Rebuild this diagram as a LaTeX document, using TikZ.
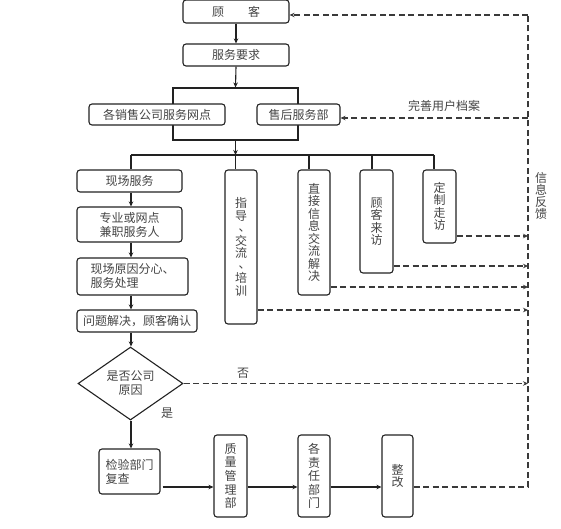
\documentclass[tikz,border=0pt]{standalone}
\usepackage{fontspec}
\setmainfont{Noto Sans CJK SC}
\usetikzlibrary{arrows.meta,shapes.geometric,calc}
\definecolor{lc}{HTML}{222222}
\definecolor{tc}{HTML}{444444}
\definecolor{dc}{HTML}{3A3A3A}
\newcommand\vdun{\makebox[1em][l]{\hspace{0.3em}\raisebox{0.12em}{、}}}
\tikzset{
  box/.style={draw=lc, line width=1.1pt, rounded corners=3pt, fill=white, inner sep=0pt,
    text=tc, font=\fontsize{12}{14}\selectfont, align=center},
  vbox/.style={box, font=\fontsize{12}{12.5}\selectfont},
  vbox2/.style={box, font=\fontsize{12}{13.6}\selectfont},
  ln/.style={draw=lc, line width=1.1pt},
  arr/.style={ln, -{Stealth[length=5pt,width=4.5pt]}},
  dsh/.style={draw=dc, line width=1.2pt, dash pattern=on 6pt off 3.5pt},
  darr/.style={dsh, -{Stealth[length=5pt,width=4.5pt]}},
  lbl/.style={text=tc, font=\fontsize{12}{14}\selectfont, inner sep=0pt, align=center},
}
\begin{document}
\begin{tikzpicture}[x=1pt,y=-1pt]
\useasboundingbox (0,0) rectangle (561,528);
% bracket rectangle
\node[draw=lc, line width=1.1pt, minimum width=125, minimum height=52, inner sep=0pt] (br) at (235.5,114) {};
% top boxes
\node[box, minimum width=106, minimum height=23] (gk) at (236,11.5) {顾\hspace{2em}客};
\node[box, minimum width=106, minimum height=22] (fw) at (236,55) {服务要求};
\node[box, minimum width=136, minimum height=21] (wd) at (157,114.5) {各销售公司服务网点};
\node[box, minimum width=83, minimum height=21] (sh) at (298.5,114.5) {售后服务部};
% left chain
\node[box, minimum width=105, minimum height=22] (xc) at (129.5,181) {现场服务};
\node[box, minimum width=105, minimum height=35] (zy) at (129.5,224.5) {专业或网点\\兼职服务人};
\node[box, minimum width=111, minimum height=37, align=left] (yy) at (132.5,276.5) {现场原因分心、\\服务处理};
\node[box, minimum width=120, minimum height=22] (wt) at (137,321) {问题解决，顾客确认};
\node[draw=lc, line width=1.1pt, fill=white, diamond, aspect=1.44, minimum width=105, minimum height=73,
  inner sep=0pt, text=tc, font=\fontsize{12}{14}\selectfont, align=center] (dm) at (130.5,383.5) {是否公司\\原因};
\node[box, minimum width=61, minimum height=45, align=left] (jy) at (129.5,471.5) {检验部门\\复查};
% vertical boxes
\node[vbox, minimum width=32, minimum height=154] (zd) at (241,247) {指\\导\\\vdun\\交\\流\\\vdun\\培\\训};
\node[vbox, minimum width=32, minimum height=125] (zj) at (314,232.5) {直\\接\\信\\息\\交\\流\\解\\决};
\node[vbox, minimum width=33, minimum height=103] (lf) at (376.5,221.5) {顾\\客\\来\\访};
\node[vbox, minimum width=33, minimum height=73] (dz) at (439.5,206.5) {定\\制\\走\\访};
% bottom boxes
\node[vbox2, minimum width=33, minimum height=82] (zl) at (230.5,476) {质\\量\\管\\理\\部};
\node[vbox2, minimum width=32, minimum height=82] (zr) at (314,476) {各\\责\\任\\部\\门};
\node[vbox, minimum width=31, minimum height=82] (zg) at (397.5,476) {整\\改};
% labels
\node[lbl] (t1) at (444,106) {完善用户档案};
\node[lbl] (t2) at (243,373) {否};
\node[lbl] (t3) at (167,413) {是};
\node[lbl, font=\fontsize{12}{12}\selectfont] (t4) at (541,196) {信\\息\\反\\馈};
% coordinates
\coordinate (col) at (131,0);
\coordinate (hL) at (131,155);
\coordinate (hR) at (434,155);
\coordinate (d1) at (235.5,155);
\coordinate (d2) at (309,155);
\coordinate (d3) at (372,155);
\coordinate (rt) at (528,15);
\coordinate (r2) at (528,118);
\coordinate (a1) at (528,236);
\coordinate (a2) at (528,266);
\coordinate (a3) at (528,287);
\coordinate (a4) at (528,310);
\coordinate (a5) at (528,383.5);
\coordinate (rb) at (528,487);
% solid connectors
\draw[arr] (gk.south) -- (fw.north);
\draw[arr] (fw.south) -- (br.north);
\draw[arr] (br.south) -- (br.south |- hL);
\draw[ln] (hL) -- (hR);
\draw[ln] (hL) -- (hL |- xc.north);
\draw[ln] (d1) -- (d1 |- zd.north);
\draw[ln] (d2) -- (d2 |- zj.north);
\draw[ln] (d3) -- (d3 |- lf.north);
\draw[ln] (hR) -- (hR |- dz.north);
\draw[arr] (col |- xc.south) -- (col |- zy.north);
\draw[arr] (col |- zy.south) -- (col |- yy.north);
\draw[arr] (col |- yy.south) -- (col |- wt.north);
\draw[arr] (col |- wt.south) -- (col |- dm.north);
\draw[arr] (col |- dm.south) -- (col |- jy.north);
\draw[arr] ($(jy.east |- rb)+(2,0)$) -- (zl.west |- rb);
\draw[arr] (zl.east |- rb) -- (zr.west |- rb);
\draw[arr] (zr.east |- rb) -- (zg.west |- rb);
% dashed feedback
\draw[dsh] (zg.east |- rb) -- (rb) -- (rt);
\draw[darr] (rt) -- (rt -| gk.east);
\draw[darr] (r2) -- (r2 -| sh.east);
\draw[darr] (a1 -| dz.east) -- (a1);
\draw[darr] (a2 -| lf.east) -- (a2);
\draw[darr] (a3 -| zj.east) -- (a3);
\draw[darr] (a4 -| zd.east) -- (a4);
\draw[darr] (dm.east) -- (a5);
\end{tikzpicture}
\end{document}
